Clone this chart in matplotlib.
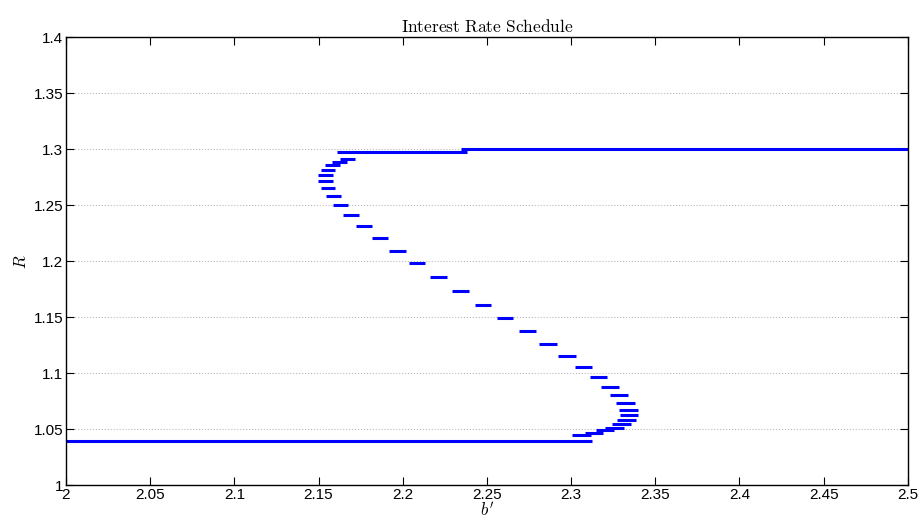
import matplotlib
matplotlib.use('Agg')
import matplotlib.pyplot as plt

plt.rcParams['font.family'] = ['Liberation Sans', 'DejaVu Sans']
plt.rcParams['mathtext.fontset'] = 'cm'

# Step segments of the interest rate schedule: start b', end b', level R
b_start = [2.0, 2.3007, 2.3082, 2.3147, 2.3203, 2.3246, 2.3274, 2.3288, 2.3286,
           2.3268, 2.3232, 2.3179, 2.3110, 2.3024, 2.2924, 2.2811, 2.2688, 2.2559,
           2.2427, 2.2292, 2.2162, 2.2037, 2.1920, 2.1817, 2.1724, 2.1647, 2.1587,
           2.1542, 2.1512, 2.1498, 2.1498, 2.1512, 2.1540, 2.1580, 2.1627, 2.1610,
           2.2346]
b_end = [2.3125, 2.3116, 2.3190, 2.3256, 2.3312, 2.3355, 2.3385, 2.3399, 2.3397,
         2.3377, 2.3339, 2.3286, 2.3214, 2.3127, 2.3027, 2.2914, 2.2789, 2.2658,
         2.2526, 2.2391, 2.2261, 2.2134, 2.2017, 2.1912, 2.1819, 2.1740, 2.1678,
         2.1631, 2.1600, 2.1587, 2.1587, 2.1600, 2.1630, 2.1667, 2.1716, 2.2380,
         2.5]
r_level = [1.0398, 1.0446, 1.0467, 1.0491, 1.0512, 1.0545, 1.0580, 1.0625, 1.0675,
           1.0738, 1.0804, 1.0880, 1.0964, 1.1056, 1.1157, 1.1264, 1.1375, 1.1491,
           1.1613, 1.1735, 1.1857, 1.1982, 1.2095, 1.2208, 1.2313, 1.2411, 1.2503,
           1.2583, 1.2654, 1.2717, 1.2773, 1.2818, 1.2857, 1.2887, 1.2913, 1.2980,
           1.3000]

x_ticks = [2.0, 2.05, 2.1, 2.15, 2.2, 2.25, 2.3, 2.35, 2.4, 2.45, 2.5]
x_labels = ['2', '2.05', '2.1', '2.15', '2.2', '2.25', '2.3', '2.35', '2.4', '2.45', '2.5']
y_ticks = [1.0, 1.05, 1.1, 1.15, 1.2, 1.25, 1.3, 1.35, 1.4]
y_labels = ['1', '1.05', '1.1', '1.15', '1.2', '1.25', '1.3', '1.35', '1.4']

fig = plt.figure(figsize=(9.23, 5.24), dpi=100)
ax = fig.add_axes([0.0715, 0.0739, 0.912, 0.8549])

ax.hlines(r_level, b_start, b_end, colors='#0000ff', linewidth=2.2)

ax.set_xlim(2.0, 2.5)
ax.set_ylim(1.0, 1.4)
ax.set_xticks(x_ticks)
ax.set_xticklabels(x_labels)
ax.set_yticks(y_ticks)
ax.set_yticklabels(y_labels)
ax.tick_params(direction='in', length=6, width=0.8, top=True, right=True,
               labelsize=11, pad=2)
for s in ax.spines.values():
    s.set_linewidth(1.0)

# light dotted horizontal grid only
ax.grid(True, axis='y', linestyle=':', color='#bbbbbb', linewidth=0.8)
ax.set_axisbelow(True)

ax.set_title(r'$\mathrm{Interest\ Rate\ Schedule}$', fontsize=12.5, pad=4)
ax.set_xlabel(r"$b'$", fontsize=12, labelpad=-1)
ax.set_ylabel(r'$R$', fontsize=12, labelpad=3)

fig.savefig('out.png', dpi=100)
